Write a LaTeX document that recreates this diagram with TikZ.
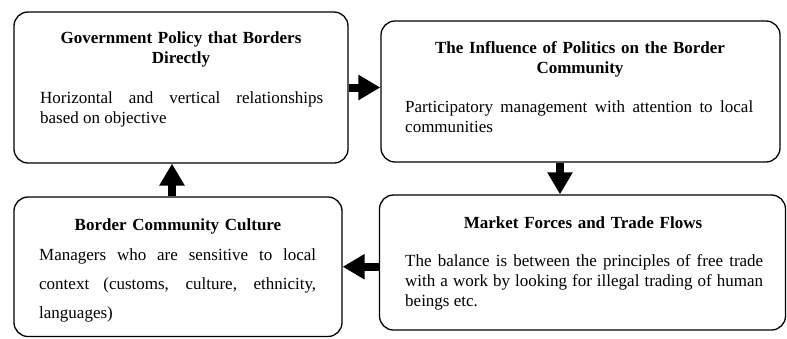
\documentclass[tikz,border=0pt]{standalone}
\usepackage{fontspec}
\setmainfont{Liberation Serif}
\usetikzlibrary{arrows.meta,positioning}

\begin{document}
\begin{tikzpicture}[x=1pt,y=-1pt,
    box/.style={draw,line width=1.3pt,rounded corners=14pt,inner sep=0pt},
    head/.style={align=center,text width=330pt,inner sep=0pt,anchor=base,
      font=\fontsize{17}{20}\selectfont\bfseries},
    body/.style={align=justify,inner sep=0pt,anchor=base west,
      font=\fontsize{17}{20}\selectfont},
    flow/.style={line width=8pt,-{Triangle[length=22pt,width=24pt]}}]
  \useasboundingbox (0,0) rectangle (787,338);
  % the four boxes
  \node[box,minimum width=334pt,minimum height=151pt] (gov) at (181,87.5) {};
  \node[box,minimum width=399pt,minimum height=141pt] (pol) at (580.5,91.5) {};
  \node[box,minimum width=406pt,minimum height=135pt] (mkt) at (582.5,262.5) {};
  \node[box,minimum width=328pt,minimum height=139.5pt] (cul) at (178,266.75) {};
  % titles
  \node[head] (govh) at (181,43) {Government Policy that Borders\\Directly};
  \node[head] (polh) at (580,53) {The Influence of Politics on the Border\\Community};
  \node[head] (mkth) at (583,228) {Market Forces and Trade Flows};
  \node[head] (culh) at (178,230) {Border Community Culture};
  % texts
  \node[body,text width=283pt] (govb) at (40,103)
    {Horizontal and vertical relationships\linebreak based on objective};
  \node[body,text width=348pt] (polb) at (405,112)
    {Participatory management with attention to local\linebreak communities};
  \node[body,text width=358pt] (mktb) at (405,266)
    {The balance is between the principles of free trade\linebreak
     with a work by looking for illegal trading of human\linebreak beings etc.};
  \node[body,text width=277pt,font=\fontsize{17}{29}\selectfont] (culb) at (39,260)
    {Managers who are sensitive to local\linebreak
     context (customs, culture, ethnicity,\linebreak languages)};
  % arrows
  \draw[flow] (gov.east) -- (gov.east -| pol.west);
  \draw[flow] ([xshift=-20.5pt]pol.south) -- ([xshift=-20.5pt]pol.south |- mkt.north);
  \draw[flow] (mkt.west |- cul.east) -- (cul.east);
  \draw[flow] ([xshift=-6pt]cul.north) -- ([xshift=-6pt]cul.north |- gov.south);
\end{tikzpicture}
\end{document}
